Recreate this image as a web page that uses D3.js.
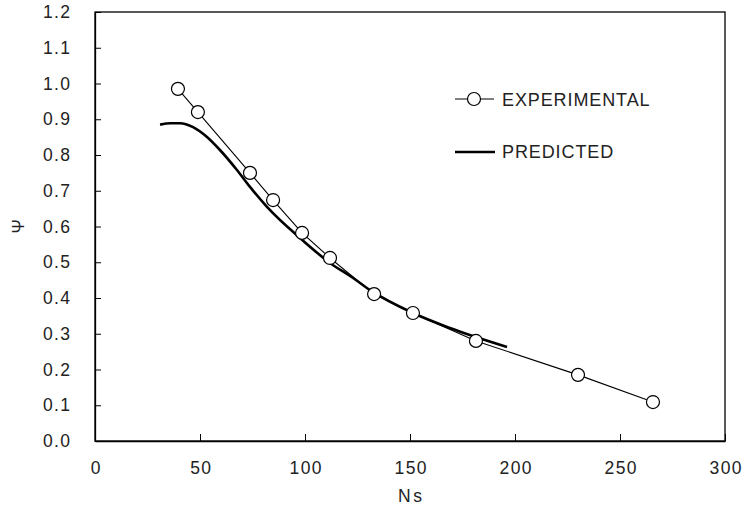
<!DOCTYPE html>
<html><head><meta charset="utf-8">
<script src="https://cdn.jsdelivr.net/npm/d3@7"></script>
<style>body{margin:0;background:#fff}svg{display:block}text{font-family:"Liberation Sans",Arial,sans-serif;fill:#222}</style>
</head><body><svg id="c" width="742" height="510"></svg>
<script>
const expNs  = [39.5, 49, 73.8, 84.8, 98.6, 111.9, 132.9, 151.4, 181.4, 230, 265.7];
const expPsi = [0.985, 0.920, 0.750, 0.674, 0.582, 0.512, 0.411, 0.358, 0.280, 0.185, 0.109];
const predNs  = [31, 36, 40.5, 46.7, 53.2, 59.5, 67.6, 73.8, 81.9, 97.6, 111.9, 122.9, 131, 151.4, 169, 196.2];
const predPsi = [0.885, 0.889, 0.889, 0.878, 0.851, 0.814, 0.758, 0.711, 0.655, 0.568, 0.498, 0.456, 0.422, 0.358, 0.316, 0.263];
const xTicks = [0, 50, 100, 150, 200, 250, 300];
const yTicks = [0.0, 0.1, 0.2, 0.3, 0.4, 0.5, 0.6, 0.7, 0.8, 0.9, 1.0, 1.1, 1.2];
const legendLabels = ["EXPERIMENTAL", "PREDICTED"];

const svg = d3.select("#c");
const L = 95, R = 725, T = 12, B = 441;
const x = d3.scaleLinear().domain([0, 300]).range([L, R]);
const y = d3.scaleLinear().domain([0, 1.2]).range([B, T]);
const FS = "17.5px", LS = 1.3;

// frame
svg.append("rect").attr("x", L).attr("y", T).attr("width", R - L).attr("height", B - T)
  .attr("fill", "none").attr("stroke", "#000").attr("stroke-width", 1.3);

// y axis
const ya = svg.append("g").attr("transform", `translate(${L},0)`)
  .call(d3.axisLeft(y).tickValues(yTicks).tickSizeInner(-6).tickSizeOuter(0).tickPadding(25 - LS).tickFormat(d3.format(".1f")));
ya.select(".domain").attr("stroke", "#000").attr("stroke-width", 1.3);
ya.selectAll(".tick line").attr("stroke", "#000");
ya.selectAll("text").style("font-size", FS).style("letter-spacing", LS + "px").attr("fill", "#333");

// x axis
const xa = svg.append("g").attr("transform", `translate(0,${B})`)
  .call(d3.axisBottom(x).tickValues(xTicks).tickSizeInner(-7).tickSizeOuter(0).tickPadding(20.5).tickFormat(d3.format("d")));
xa.select(".domain").attr("stroke", "#000").attr("stroke-width", 1.3);
xa.selectAll(".tick line").attr("stroke", "#000");
xa.selectAll("text").style("font-size", FS).style("letter-spacing", LS + "px").attr("dx", LS / 2).attr("fill", "#333");

// axis titles
svg.append("text").attr("x", x(150) + 1.2).attr("y", 502).attr("text-anchor", "middle")
  .style("font-size", FS).style("letter-spacing", "2.5px").attr("fill", "#333").text("Ns");
svg.append("text").attr("transform", `translate(24,${y(0.6)}) rotate(-90)`).attr("text-anchor", "middle")
  .style("font-size", "17px").attr("fill", "#333").text("Ψ");

// predicted
const pred = predNs.map((n, i) => [n, predPsi[i]]);
svg.append("path").datum(pred)
  .attr("d", d3.line().x(d => x(d[0])).y(d => y(d[1])).curve(d3.curveMonotoneX))
  .attr("fill", "none").attr("stroke", "#000").attr("stroke-width", 2.6);

// experimental
const exp = expNs.map((n, i) => [n, expPsi[i]]);
svg.append("path").datum(exp)
  .attr("d", d3.line().x(d => x(d[0])).y(d => y(d[1])))
  .attr("fill", "none").attr("stroke", "#000").attr("stroke-width", 1.1);
svg.selectAll("circle.e").data(exp).join("circle").attr("class", "e")
  .attr("cx", d => x(d[0])).attr("cy", d => y(d[1])).attr("r", 6.5)
  .attr("fill", "#fff").attr("stroke", "#000").attr("stroke-width", 1.2);

// legend
const lg = svg.append("g");
lg.append("line").attr("x1", 455).attr("x2", 494).attr("y1", 99).attr("y2", 99)
  .attr("stroke", "#000").attr("stroke-width", 1.1);
lg.append("circle").attr("cx", 474).attr("cy", 99).attr("r", 6.5)
  .attr("fill", "#fff").attr("stroke", "#000").attr("stroke-width", 1.2);
lg.append("text").attr("x", 502).attr("y", 105.5).style("font-size", "18px")
  .style("letter-spacing", "0.9px").attr("fill", "#333").text(legendLabels[0]);
lg.append("line").attr("x1", 455).attr("x2", 495).attr("y1", 152).attr("y2", 152)
  .attr("stroke", "#000").attr("stroke-width", 2.6);
lg.append("text").attr("x", 502).attr("y", 158).style("font-size", "18px")
  .style("letter-spacing", "0.9px").attr("fill", "#333").text(legendLabels[1]);
</script></body></html>
